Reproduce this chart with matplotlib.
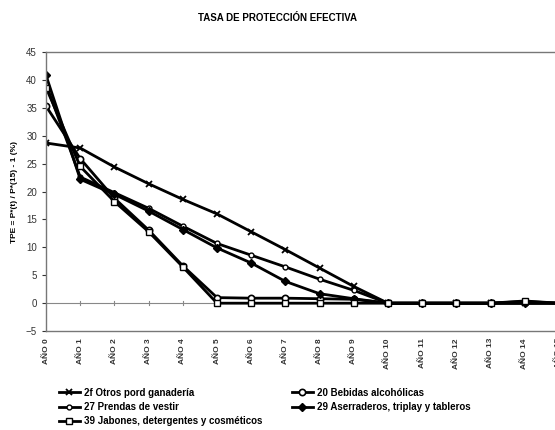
import matplotlib.pyplot as plt
import numpy as np

plt.rcParams['font.family'] = ['Liberation Sans', 'DejaVu Sans']

anios = ['AÑO %d' % i for i in range(16)]

# valores (TPE en %)
otros_ganaderia = [28.7, 27.8, 24.4, 21.4, 18.6, 16.0, 12.8, 9.6, 6.3, 3.0, 0, 0, 0, 0, 0, 0]
bebidas = [35.3, 25.9, 18.8, 13.1, 6.7, 1.0, 0.9, 0.9, 0.8, 0.7, 0, 0, 0, 0, 0.3, 0]
prendas = [39.2, 22.6, 19.8, 17.0, 13.8, 10.7, 8.6, 6.5, 4.3, 2.3, 0, 0, 0, 0, 0, 0]
aserraderos = [40.8, 22.2, 19.5, 16.5, 13.2, 9.9, 7.2, 3.9, 1.7, 0.8, 0, 0, 0, 0, 0, 0]
jabones = [38.6, 24.5, 18.2, 12.8, 6.5, 0, 0, 0, 0, 0, 0, 0, 0, 0, 0.4, 0]

x = np.arange(len(anios))

fig = plt.figure(figsize=(5.55, 4.30), dpi=100)
ax = fig.add_axes([0.083, 0.23, 0.924, 0.649])

lw = 2.0
h1, = ax.plot(x, otros_ganaderia, color='black', lw=lw, marker='x', ms=5, mew=1.3,
              label='2f Otros pord ganadería')
h2, = ax.plot(x, bebidas, color='black', lw=lw, marker='o', ms=4.5, mfc='white', mew=1.2,
              label='20 Bebidas alcohólicas')
h3, = ax.plot(x, prendas, color='black', lw=lw, marker='o', ms=3.5, mfc='white', mew=1.0,
              label='27 Prendas de vestir')
h4, = ax.plot(x, aserraderos, color='black', lw=lw, marker='D', ms=4, mfc='black',
              label='29 Aserraderos, triplay y tableros')
h5, = ax.plot(x, jabones, color='black', lw=lw, marker='s', ms=4, mfc='white', mew=1.0,
              label='39 Jabones, detergentes y cosméticos')

ax.axhline(0, color='#888888', lw=0.8, zorder=0)
for xi in x[1:]:
    ax.plot([xi, xi], [-0.4, 0.4], color='#888888', lw=0.8, zorder=0)

ax.set_xlim(0, 15)
ax.set_ylim(-5, 45)
ax.set_yticks(range(-5, 50, 5))
ax.set_xticks(x)
ax.set_xticklabels(anios, rotation=90, fontsize=6, fontweight='bold', color='#333333')
ax.tick_params(axis='y', labelsize=7, colors='#333333', length=3, direction='out')
ax.tick_params(axis='x', length=0, pad=5)
for s in ax.spines.values():
    s.set_color('#777777')
    s.set_linewidth(1.0)
ax.spines['right'].set_visible(False)

ax.set_ylabel('TPE = P*(t) / P*(15) - 1 (%)', fontsize=6, fontweight='bold', labelpad=6)
fig.suptitle('TASA DE PROTECCIÓN EFECTIVA', fontsize=7, fontweight='bold', x=0.5, y=0.97)

fig.legend(handles=[h1, h3, h5, h2, h4], ncol=2, loc='lower left',
           bbox_to_anchor=(0.09, -0.012), frameon=False,
           prop={'weight': 'bold', 'size': 7}, handlelength=2.2, handletextpad=0.4,
           columnspacing=3.0, labelspacing=0.45)

plt.savefig('out.png', dpi=100)
